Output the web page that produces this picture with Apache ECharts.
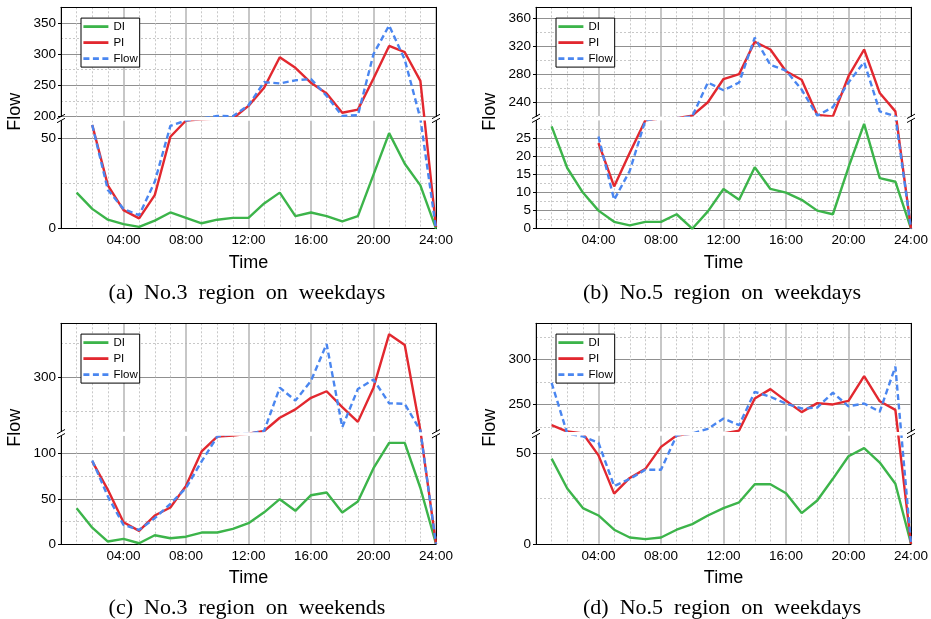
<!DOCTYPE html>
<html>
<head>
<meta charset="utf-8">
<title>DI / PI / Flow by hour</title>
<script src="https://cdn.jsdelivr.net/npm/echarts@6/dist/echarts.min.js"></script>
<style>
  html, body { margin: 0; padding: 0; background: #fff; }
  #chart { width: 931px; height: 619px; }
</style>
</head>
<body>
<div id="chart"></div>
<script>
  var hours = [1, 2, 3, 4, 5, 6, 7, 8, 9, 10, 11, 12, 13, 14, 15, 16, 17, 18, 19, 20, 21, 22, 23, 24];

  // (a) No.3 region on weekdays
  var diA = [20, 11, 5, 2.5, 1, 4.5, 9, 6, 3, 5, 6, 6, 14, 20, 7, 9, 7, 4, 7, 30, 53, 36, 24, 0];
  var piA = [null, 57.5, 24, 10.3, 5.7, 18.6, 51, 60, 100, 130, 130, 217, 246, 295, 278, 254, 237, 206, 211, 261, 313, 303, 257, 1];
  var flowA = [null, 57.5, 21.5, 11, 7.5, 26, 57, 60, 130, 201, 200.5, 218, 255, 253, 258, 260, 233, 201, 202, 300, 346, 291, 130, 0];

  // (b) No.5 region on weekdays
  var diB = [28.3, 16.8, 10, 5, 1.9, 0.9, 1.9, 1.9, 4, 0, 4.8, 11, 8, 17, 11, 10, 8, 5, 4, 17, 29, 14, 13, 0];
  var piB = [null, null, null, 23.7, 11.7, 21, 30.5, 125, 125, 221, 240, 273, 280, 326, 315, 284, 272, 222, 219, 277, 315, 253, 227, 0];
  var flowB = [null, null, null, 25.5, 8, 16, 30.5, 125, 125, 218, 268, 257, 268, 332, 293, 285, 258, 221, 233, 268, 297, 227, 219.5, 0];

  // (c) No.3 region on weekends
  var diC = [39.6, 18, 2.6, 5.5, 0.7, 9.6, 6.3, 8, 12.6, 12.6, 16.7, 23, 35, 49.6, 36.7, 54, 57, 34.8, 47, 84, 112, 112, 62, 0];
  var piC = [null, 91.5, 60, 24, 14.4, 31.5, 40.4, 64.4, 102.6, 119, 121, 170, 221, 240.6, 253, 270, 279.7, 256.4, 234.5, 285, 364, 348, 222, 0];
  var flowC = [null, 92.6, 52.6, 21, 15.6, 28.5, 44.4, 62, 91.5, 119, 170, 170, 221, 285, 266, 295, 349.5, 226.7, 283, 297, 262, 261, 221.7, 0];

  // (d) No.5 region on weekdays
  var diD = [47.2, 30.6, 19.8, 15.7, 7.8, 3.5, 2.6, 3.5, 7.8, 10.9, 15.7, 19.8, 23, 33, 33, 28, 17, 24, 36, 48.5, 53, 45, 33.3, 0];
  var piD = [227, 219, 140, 49, 27.8, 36.5, 41.5, 53.7, 62, 140, 140, 140, 221, 256.7, 267, 254, 241.5, 251.5, 250, 254, 281.5, 253.5, 244, 0];
  var flowD = [274, 140, 59.5, 56, 32, 36, 41, 41, 65, 140, 223, 234.4, 227, 264, 258.5, 251, 245.5, 246.6, 263, 248, 251, 242, 292, 0];

  // broken y axes: lower part and upper part of each panel
  var lowRangeA = [0, 60],  upRangeA = [200, 375];
  var lowRangeB = [0, 30],  upRangeB = [220, 375];
  var lowRangeC = [0, 120], upRangeC = [220, 380];
  var lowRangeD = [0, 60],  upRangeD = [220, 340];

  // y tick values (major = labelled, minor = dotted grid)
  var lowMajorA = [0, 50],  lowMinorA = [25];
  var upMajorA = [200, 250, 300, 350], upMinorA = [225, 275, 325];
  var lowMajorB = [0, 5, 10, 15, 20, 25], lowMinorB = [2.5, 7.5, 12.5, 17.5, 22.5, 27.5];
  var upMajorB = [240, 280, 320, 360], upMinorB = [220, 260, 300, 340];
  var lowMajorC = [0, 50, 100], lowMinorC = [25, 75];
  var upMajorC = [300], upMinorC = [250, 350];
  var lowMajorD = [0, 50], lowMinorD = [25];
  var upMajorD = [250, 300], upMinorD = [225, 275, 325];

  var xRange = [0, 24];
  var captions = ['(a) No.3 region on weekdays', '(b) No.5 region on weekdays',
                  '(c) No.3 region on weekends', '(d) No.5 region on weekdays'];
  var seriesNames = ['DI', 'PI', 'Flow'];
  var colors = ['#3cb44a', '#e2282f', '#4a86f0'];

  var SANS = '"Liberation Sans", Arial, sans-serif';
  var SERIF = '"Liberation Serif", "Times New Roman", serif';
  var GAP = 4;   // height of the break band, px
  var PLOT_W = 375;

  var panels = [
    { left: 61,  top: 7.3,   upH: 109.2, lowH: 108.2, vals: [diA, piA, flowA], low: lowRangeA, up: upRangeA,
      lowMajor: lowMajorA, lowMinor: lowMinorA, upMajor: upMajorA, upMinor: upMinorA },
    { left: 536, top: 7.3,   upH: 109,   lowH: 108.4, vals: [diB, piB, flowB], low: lowRangeB, up: upRangeB,
      lowMajor: lowMajorB, lowMinor: lowMinorB, upMajor: upMajorB, upMinor: upMinorB },
    { left: 61,  top: 323.3, upH: 108.4, lowH: 108.2, vals: [diC, piC, flowC], low: lowRangeC, up: upRangeC,
      lowMajor: lowMajorC, lowMinor: lowMinorC, upMajor: upMajorC, upMinor: upMinorC },
    { left: 536, top: 323.3, upH: 108.2, lowH: 108.3, vals: [diD, piD, flowD], low: lowRangeD, up: upRangeD,
      lowMajor: lowMajorD, lowMinor: lowMinorD, upMajor: upMajorD, upMinor: upMinorD }
  ];

  // maps a real value onto the lower axis so the two scales join at the break
  function makeWarp(p) {
    var lowPx = p.lowH / (p.low[1] - p.low[0]);
    var upPx = p.upH / (p.up[1] - p.up[0]);
    var gapUnits = GAP / lowPx;
    return function (v) {
      if (v <= p.low[1]) return v;
      if (v < p.up[0]) return p.low[1] + (v - p.low[1]) / (p.up[0] - p.low[1]) * gapUnits;
      return p.low[1] + gapUnits + (v - p.up[0]) * upPx / lowPx;
    };
  }

  function hourLabel(v) {
    if (v === 0) return '';
    return (v < 10 ? '0' + v : '' + v) + ':00';
  }

  var grid = [], xAxis = [], yAxis = [], series = [], legend = [], graphic = [];

  panels.forEach(function (p, i) {
    var warp = makeWarp(p);
    var lowTop = p.top + p.upH + GAP;
    var bottom = lowTop + p.lowH;

    grid.push({ left: p.left, top: p.top, width: PLOT_W, height: p.upH });
    grid.push({ left: p.left, top: lowTop, width: PLOT_W, height: p.lowH });

    var xCommon = {
      type: 'value', min: xRange[0], max: xRange[1], interval: 4,
      axisLine: { show: true, onZero: false, lineStyle: { color: '#000', width: 1 } },
      splitLine: { show: true, lineStyle: { color: '#b4b4b4', width: 1.5 } },
      minorTick: { show: false, splitNumber: 4 },
      minorSplitLine: { show: true, lineStyle: { color: '#c8c8c8', width: 1, type: [2, 2] } }
    };
    xAxis.push(Object.assign({}, xCommon, {
      gridIndex: 2 * i, position: 'top',
      axisTick: { show: false }, axisLabel: { show: false }
    }));
    xAxis.push(Object.assign({}, xCommon, {
      gridIndex: 2 * i + 1, position: 'bottom',
      axisTick: { show: false },
      axisLabel: { formatter: hourLabel, fontSize: 13.5, fontFamily: SANS, color: '#000', margin: 5 }
    }));

    function majorAxis(gi, range, ticks) {
      return {
        type: 'value', gridIndex: gi, position: 'left', min: range[0], max: range[1],
        axisLine: { show: true, onZero: false, lineStyle: { color: '#000', width: 1 } },
        axisTick: { show: true, inside: false, length: 3, customValues: ticks, lineStyle: { color: '#000' } },
        axisLabel: { customValues: ticks, fontSize: 13.5, fontFamily: SANS, color: '#000', margin: 5 },
        splitLine: { show: true, lineStyle: { color: '#909090', width: 1 } }
      };
    }
    function minorAxis(gi, range, ticks) {
      return {
        type: 'value', gridIndex: gi, position: 'right', min: range[0], max: range[1],
        axisLine: { show: true, onZero: false, lineStyle: { color: '#000', width: 1 } },
        axisTick: { show: false, customValues: ticks },
        axisLabel: { show: false },
        splitLine: { show: true, lineStyle: { color: '#c8c8c8', width: 1, type: [2, 2] } }
      };
    }
    yAxis.push(majorAxis(2 * i, p.up, p.upMajor));
    yAxis.push(minorAxis(2 * i, p.up, p.upMinor));
    yAxis.push(majorAxis(2 * i + 1, p.low, p.lowMajor));
    yAxis.push(minorAxis(2 * i + 1, p.low, p.lowMinor));

    seriesNames.forEach(function (name, k) {
      var data = [];
      hours.forEach(function (h, j) {
        var v = p.vals[k][j];
        if (v != null) data.push([h, warp(v)]);
      });
      series.push({
        name: name, type: 'line', xAxisIndex: 2 * i + 1, yAxisIndex: 4 * i + 2,
        data: data, clip: false, symbol: 'none', silent: true, z: 3 + k,
        itemStyle: { color: colors[k] },
        lineStyle: { color: colors[k], width: 2.4, type: name === 'Flow' ? [6, 3.5] : 'solid' }
      });
    });

    // white break band over the lines, with // marks on both axes
    series.push({
      type: 'custom', xAxisIndex: 2 * i + 1, yAxisIndex: 4 * i + 2, silent: true, z: 10,
      data: [[xRange[0], p.low[1]]],
      renderItem: function (params, api) {
        var lb = api.coord([xRange[0], p.low[1]]);
        var lt = api.coord([xRange[0], warp(p.up[0])]);
        var rb = api.coord([xRange[1], p.low[1]]);
        var children = [{
          type: 'rect',
          shape: { x: lb[0] + 0.5, y: lt[1] + 0.5, width: rb[0] - lb[0] - 1, height: lb[1] - lt[1] - 0.5 },
          style: { fill: '#fff' }
        }];
        [lb[0], rb[0]].forEach(function (x) {
          [lt[1], lb[1]].forEach(function (y) {
            children.push({
              type: 'line',
              shape: { x1: x - 4, y1: y + 2.2, x2: x + 4, y2: y - 2.2 },
              style: { stroke: '#000', lineWidth: 1 }
            });
          });
        });
        return { type: 'group', children: children };
      }
    });

    legend.push({
      data: seriesNames, orient: 'vertical', selectedMode: false,
      left: p.left + 20, top: p.top + 10.8,
      itemWidth: 25, itemHeight: 10, itemGap: 4,
      padding: [2.5, 2, 2.5, 1],
      borderColor: '#000', borderWidth: 1, backgroundColor: '#fff',
      lineStyle: { width: 2.8 },
      itemStyle: { color: 'rgba(0,0,0,0)', borderColor: 'rgba(0,0,0,0)', borderWidth: 0, opacity: 0 },
      textStyle: { fontSize: 11.5, fontFamily: SANS, color: '#000' }
    });

    graphic.push({
      type: 'text', x: p.left - 46, y: p.top + 104.5, rotation: Math.PI / 2,
      style: { text: 'Flow', font: '18px ' + SANS, fill: '#000', align: 'center', verticalAlign: 'middle' }
    });
    graphic.push({
      type: 'text', x: p.left + PLOT_W / 2, y: bottom + 34,
      style: { text: 'Time', font: '18px ' + SANS, fill: '#000', align: 'center', verticalAlign: 'middle' }
    });
    graphic.push({
      type: 'text', x: p.left + PLOT_W / 2 - 1.5, y: bottom + 64.5,
      style: { text: captions[i].replace(/ /g, '\u2002'), font: '22px ' + SERIF, fill: '#000',
               align: 'center', verticalAlign: 'middle' }
    });
  });

  var chart = echarts.init(document.getElementById('chart'), null, { renderer: 'canvas' });
  chart.setOption({
    backgroundColor: '#fff',
    animation: false,
    grid: grid,
    xAxis: xAxis,
    yAxis: yAxis,
    legend: legend,
    series: series,
    graphic: graphic
  });
</script>
</body>
</html>
